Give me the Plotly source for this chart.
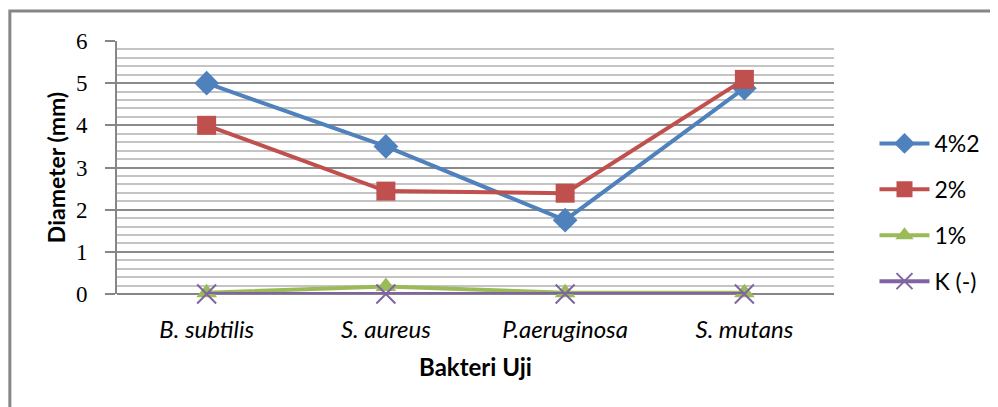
import plotly.graph_objects as go

categories = ["B. subtilis", "S. aureus", "P.aeruginosa", "S. mutans"]
series_names = ["4%2", "2%", "1%", "K (-)"]
s_4 = [5.0, 3.5, 1.75, 4.88]
s_2 = [4.0, 2.44, 2.39, 5.09]
s_1 = [0.03, 0.18, 0.03, 0.03]
s_k = [0.0, 0.0, 0.0, 0.0]
y_ticks = [0, 1, 2, 3, 4, 5, 6]

colors = ["#4F81BD", "#C0504D", "#9BBB59", "#8064A2"]
symbols = ["diamond", "square", "triangle-up", "x-thin-open"]
sizes = [19, 19, 18, 19]
values = [s_4, s_2, s_1, s_k]

# page has an 8px body margin; figure coordinates = page coordinates - 8
W, H = 990, 399
L, R, T, B = 109, 155, 33, 113
pw, ph = W - L - R, H - T - B
SANS = "Lato, Liberation Sans, sans-serif"

fig = go.Figure()
for i, (name, vals) in enumerate(zip(series_names, values)):
    marker = dict(symbol=symbols[i], size=sizes[i], color=colors[i])
    if symbols[i] == "x-thin-open":
        marker["line"] = dict(color=colors[i], width=2)
    fig.add_trace(go.Scatter(
        x=categories, y=vals, name=name, mode="lines+markers",
        line=dict(color=colors[i], width=4),
        marker=marker, cliponaxis=False, legendgroup=name,
    ))

fig.update_layout(
    width=W, height=H,
    margin=dict(l=L, r=R, t=T, b=B, pad=0),
    paper_bgcolor="white", plot_bgcolor="white",
    showlegend=True,
    legend=dict(
        x=(876 - L) / pw, y=(286 - 114) / ph, xanchor="left", yanchor="top",
        font=dict(family=SANS, size=23, color="#000000"),
        tracegroupgap=13, itemwidth=50, bgcolor="rgba(0,0,0,0)",
    ),
    shapes=[dict(
        type="rect", xref="paper", yref="paper",
        x0=(0.5 - L) / pw, x1=2.0, y0=-2.0, y1=(286 - 3) / ph,
        line=dict(color="#868686", width=3), fillcolor="rgba(0,0,0,0)", layer="below",
    )],
)

fig.update_xaxes(
    type="category", range=[-0.5, 3.5],
    showgrid=False, showline=False, zeroline=False, ticks="",
    tickfont=dict(family=SANS, size=24, color="#000000", style="italic"),
    ticklabelstandoff=19,
    title=dict(text="<b>Bakteri Uji</b>", standoff=17,
               font=dict(family=SANS, size=24, color="#000000")),
)
fig.update_yaxes(
    range=[0, 6], tickvals=y_ticks,
    showgrid=True, gridcolor="#8A8A8A", gridwidth=1.5,
    minor=dict(dtick=0.2, showgrid=True, gridcolor="#C4C4C4", gridwidth=1.5),
    showline=True, linecolor="#868686", linewidth=2,
    ticks="outside", ticklen=10, tickcolor="#868686", tickwidth=1.5,
    zeroline=True, zerolinecolor="#868686", zerolinewidth=2,
    tickfont=dict(family="Liberation Serif, DejaVu Serif, serif", size=23, color="#000000"),
    ticklabelstandoff=13,
    title=dict(text="<b>Diameter (mm)</b>", standoff=4,
               font=dict(family=SANS, size=23, color="#000000")),
)

fig.write_html("out.html")
